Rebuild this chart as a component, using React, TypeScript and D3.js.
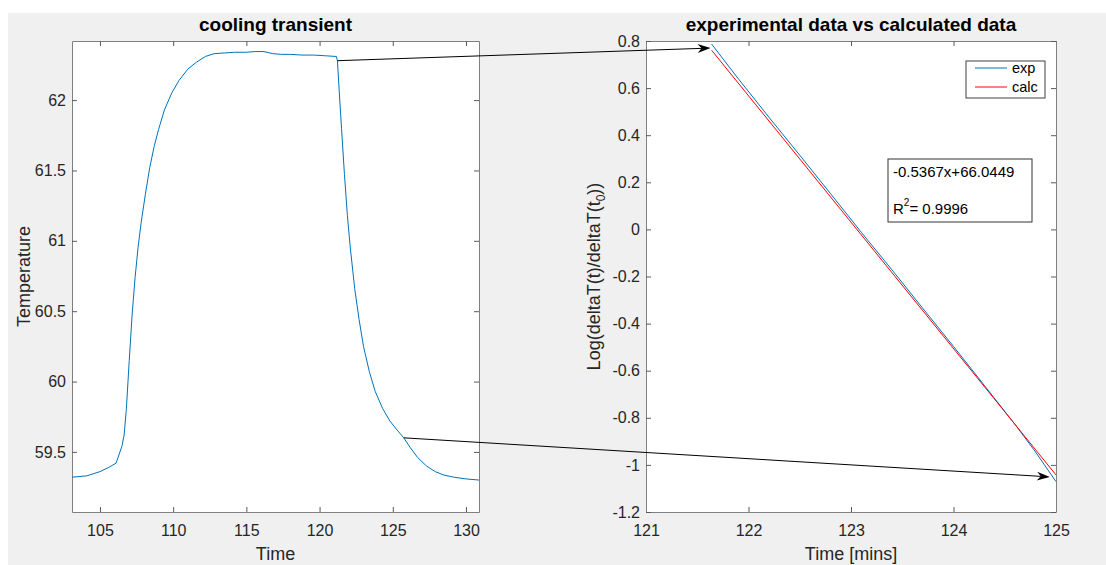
import React, { useEffect, useRef } from "react";
import * as d3 from "d3";

// cooling transient (left panel)
const coolTime = [103.09, 104.1, 105.0, 105.6, 106.1, 106.2, 106.5, 106.65, 106.8, 107.0, 107.2, 107.4, 107.6, 107.8, 108.1, 108.4, 108.7, 109.0, 109.4, 109.9, 110.4, 111.0, 111.6, 112.2, 112.8, 113.5, 114.2, 115.0, 115.6, 116.2, 116.8, 117.4, 118.0, 118.8, 119.6, 120.4, 121.15, 121.22, 121.35, 121.5, 121.7, 121.9, 122.1, 122.4, 122.7, 123.0, 123.4, 123.8, 124.3, 124.8, 125.3, 125.75, 126.2, 126.7, 127.3, 127.9, 128.5, 129.2, 130.0, 130.89];
const coolTemp = [59.32, 59.33, 59.36, 59.39, 59.42, 59.45, 59.54, 59.62, 59.8, 60.15, 60.48, 60.74, 60.95, 61.12, 61.33, 61.52, 61.67, 61.79, 61.93, 62.05, 62.14, 62.22, 62.27, 62.31, 62.33, 62.335, 62.34, 62.34, 62.345, 62.345, 62.33, 62.325, 62.325, 62.32, 62.32, 62.315, 62.31, 62.28, 62.05, 61.8, 61.47, 61.18, 60.95, 60.66, 60.44, 60.25, 60.07, 59.93, 59.81, 59.72, 59.655, 59.6, 59.53, 59.46, 59.4, 59.36, 59.335, 59.32, 59.308, 59.3];
const leftXTicks = [105, 110, 115, 120, 125, 130];
const leftYTicks = [59.5, 60, 60.5, 61, 61.5, 62];

// experimental vs calculated (right panel)
const expTime = [121.64, 121.9, 122.2, 122.5, 122.8, 123.1, 123.4, 123.7, 124.0, 124.3, 124.6, 124.8, 125.0];
const expLog = [0.787, 0.64, 0.476, 0.315, 0.152, -0.012, -0.172, -0.335, -0.497, -0.662, -0.828, -0.945, -1.071];
const fitSlope = -0.5367;
const fitIntercept = 66.0449;
const calcTime = [121.64, 125.0];
const rightXTicks = [121, 122, 123, 124, 125];
const rightYTicks = [-1.2, -1, -0.8, -0.6, -0.4, -0.2, 0, 0.2, 0.4, 0.6, 0.8];

// arrows: start on left panel, end on right panel (data coordinates)
const arrowFrom = [[121.22, 62.28], [125.75, 59.6]];
const arrowTo = [[121.63, 0.77], [124.94, -1.051]];

const W = 1106, H = 565;
const FONT = "'Liberation Sans', Arial, Helvetica, sans-serif";
const TXT = "#262626";
const BLUE = "#0072BD";
const RED = "#ff0000";

export default function App() {
  const ref = useRef<SVGSVGElement>(null);

  useEffect(() => {
    const svg = d3.select(ref.current);
    svg.selectAll("*").remove();

    svg.append("rect").attr("width", W).attr("height", H).attr("fill", "#fff");
    svg.append("rect").attr("x", 8).attr("y", 13).attr("width", W - 8).attr("height", H - 13).attr("fill", "#f0f0f0");

    const xL = d3.scaleLinear().domain([103.09, 130.89]).range([72, 479]);
    const yL = d3.scaleLinear().domain([59.073, 62.42]).range([512, 41]);
    const xR = d3.scaleLinear().domain([121, 125]).range([646, 1056]);
    const yR = d3.scaleLinear().domain([-1.2, 0.8]).range([512, 41]);

    const frame = (x: any, y: any, xt: number[], yt: number[], fx: any, fy: any) => {
      const [x0, x1] = x.range();
      const [y1, y0] = y.range();
      svg.append("rect").attr("x", x0).attr("y", y0).attr("width", x1 - x0).attr("height", y1 - y0).attr("fill", "#fff");
      const style = (g: any) => {
        g.select(".domain").attr("stroke", "#808080");
        g.selectAll(".tick line").attr("stroke", "#5a5a5a");
        g.selectAll("text").attr("font-family", FONT).attr("font-size", 16).attr("fill", TXT);
      };
      svg.append("g").attr("transform", `translate(0,${y1})`)
        .call(d3.axisBottom(x).tickValues(xt).tickSizeInner(-5).tickSizeOuter(0).tickPadding(12.5).tickFormat(fx)).call(style);
      svg.append("g").attr("transform", `translate(0,${y0})`)
        .call(d3.axisTop(x).tickValues(xt).tickSizeInner(-5).tickSizeOuter(0).tickFormat(() => "")).call(style);
      svg.append("g").attr("transform", `translate(${x0},0)`)
        .call(d3.axisLeft(y).tickValues(yt).tickSizeInner(-5).tickSizeOuter(0).tickPadding(6).tickFormat(fy)).call(style);
      svg.append("g").attr("transform", `translate(${x1},0)`)
        .call(d3.axisRight(y).tickValues(yt).tickSizeInner(-5).tickSizeOuter(0).tickFormat(() => "")).call(style);
    };

    frame(xL, yL, leftXTicks, leftYTicks, (d: number) => String(d), (d: number) => String(d));
    frame(xR, yR, rightXTicks, rightYTicks, (d: number) => String(d), (d: number) => String(+d.toFixed(1)));

    // left curve
    const lineL = d3.line<number>().x((d, i) => xL(coolTime[i])).y((d) => yL(d));
    svg.append("path").attr("d", lineL(coolTemp)).attr("fill", "none").attr("stroke", BLUE).attr("stroke-width", 1);

    // right lines
    const lineR = d3.line<number>().x((d, i) => xR(expTime[i])).y((d) => yR(d));
    svg.append("path").attr("d", lineR(expLog)).attr("fill", "none").attr("stroke", BLUE).attr("stroke-width", 1);
    const calcLog = calcTime.map((t) => fitSlope * t + fitIntercept);
    svg.append("path")
      .attr("d", d3.line<number>().x((d, i) => xR(calcTime[i])).y((d) => yR(d))(calcLog))
      .attr("fill", "none").attr("stroke", RED).attr("stroke-width", 1);

    // titles
    const title = (x: number, t: string) =>
      svg.append("text").attr("x", x).attr("y", 31).attr("text-anchor", "middle")
        .attr("font-family", FONT).attr("font-size", 19).attr("font-weight", "bold").attr("fill", "#000").text(t);
    title((72 + 479) / 2, "cooling transient");
    title((646 + 1056) / 2, "experimental data vs calculated data");

    // axis labels
    const lab = (x: number, y: number) =>
      svg.append("text").attr("x", x).attr("y", y).attr("text-anchor", "middle")
        .attr("font-family", FONT).attr("font-size", 18).attr("fill", TXT);
    lab((72 + 479) / 2, 560).text("Time");
    lab((646 + 1056) / 2, 560).text("Time [mins]");
    lab(0, 0).attr("transform", `translate(30,${(41 + 512) / 2}) rotate(-90)`).text("Temperature");
    const yl = lab(0, 0).attr("transform", `translate(600,${(41 + 512) / 2}) rotate(-90)`);
    yl.append("tspan").text("Log(deltaT(t)/deltaT(t");
    yl.append("tspan").attr("dy", 5).attr("font-size", 12).text("0");
    yl.append("tspan").attr("dy", -5).text("))");

    // legend
    const lg = svg.append("g").attr("transform", `translate(${1056 - 90},${41 + 20})`);
    lg.append("rect").attr("width", 79).attr("height", 37).attr("fill", "#fff").attr("stroke", "#404040").attr("stroke-width", 1);
    [["exp", BLUE], ["calc", RED]].forEach(([name, c], i) => {
      const yy = 7 + i * 19;
      lg.append("line").attr("x1", 9).attr("x2", 41).attr("y1", yy).attr("y2", yy).attr("stroke", c).attr("stroke-width", 1);
      lg.append("text").attr("x", 46).attr("y", yy + 5).attr("font-family", FONT).attr("font-size", 14.5).attr("fill", "#000").text(name);
    });

    // fit annotation box
    const bx = svg.append("g").attr("transform", `translate(888,159)`);
    bx.append("rect").attr("width", 144).attr("height", 63).attr("fill", "#fff").attr("stroke", "#333").attr("stroke-width", 1);
    bx.append("text").attr("x", 5).attr("y", 18).attr("font-family", FONT).attr("font-size", 15).attr("fill", "#000")
      .text(`${fitSlope}x+${fitIntercept}`);
    const r2 = bx.append("text").attr("x", 5).attr("y", 55).attr("font-family", FONT).attr("font-size", 15).attr("fill", "#000");
    r2.append("tspan").text("R");
    r2.append("tspan").attr("dy", -8).attr("font-size", 10).text("2");
    r2.append("tspan").attr("dy", 8).text("= 0.9996");

    // arrows
    arrowFrom.forEach((s, i) => {
      const sx = xL(s[0]), sy = yL(s[1]);
      const ex = xR(arrowTo[i][0]), ey = yR(arrowTo[i][1]);
      const a = Math.atan2(ey - sy, ex - sx);
      svg.append("line").attr("x1", sx).attr("y1", sy).attr("x2", ex - 8 * Math.cos(a)).attr("y2", ey - 8 * Math.sin(a))
        .attr("stroke", "#000").attr("stroke-width", 1);
      svg.append("path").attr("d", "M0,0L-13,-4.5L-9,0L-13,4.5Z")
        .attr("transform", `translate(${ex},${ey}) rotate(${a * 180 / Math.PI})`).attr("fill", "#000");
    });
  }, []);

  return (
    <div style={{ position: "absolute", left: 0, top: 0 }}>
      <svg ref={ref} width={W} height={H} style={{ display: "block" }} />
    </div>
  );
}
